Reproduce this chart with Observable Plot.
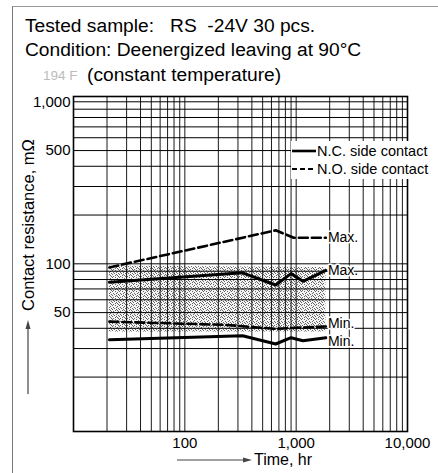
<!DOCTYPE html>
<html>
<head>
<meta charset="utf-8">
<script src="https://cdn.jsdelivr.net/npm/d3@7"></script>
<script src="https://cdn.jsdelivr.net/npm/@observablehq/plot@0.6"></script>
<style>
  body { margin: 0; background: #fff; }
  #wrap { position: relative; width: 438px; height: 473px; overflow: hidden; background: #fff;
          font-family: "Liberation Sans", Arial, Helvetica, sans-serif; color: #000; }
  .abs { position: absolute; white-space: pre; }
  .title { font-size: 19.2px; line-height: 18px; }
  #legend { position: absolute; left: 291px; top: 141px; width: 160px; background: #fff; padding: 1px 0; }
  #legend .row { display: flex; align-items: center; height: 18px; font-size: 14.5px; white-space: nowrap; }
  #legend svg { width: 25px; height: 8px; margin-right: 1px; }
</style>
</head>
<body>
<div id="wrap">
  <div class="abs" style="left:12px;top:6px;width:600px;height:600px;border-left:1px solid #777;border-top:1px solid #999;"></div>
  <div class="abs title" style="left:25px;top:17px;">Tested sample:   RS  -24V 30 pcs.</div>
  <div class="abs title" style="left:25px;top:41px;">Condition: Deenergized leaving at 90°C</div>
  <div class="abs" style="left:43px;top:69px;font-size:13.5px;line-height:14px;color:#bbb;">194 F</div>
  <div class="abs title" style="left:87px;top:66px;">(constant temperature)</div>
  <div id="chart" class="abs" style="left:0;top:88px;"></div>
  <div id="legend"></div>
  <div class="abs" style="left:28px;top:225px;font-size:16.5px;transform:translate(-50%,-50%) rotate(-90deg);">Contact resistance, mΩ</div>
  <div class="abs" style="left:254px;top:451px;font-size:16px;line-height:18px;">Time, hr</div>
  <svg class="abs" style="left:0;top:0;pointer-events:none" width="438" height="473">
    <line x1="28" y1="394" x2="28" y2="326" stroke="#444" stroke-width="1.2"/>
    <path d="M28,320 L25.5,329 L30.5,329 Z" fill="#444"/>
    <line x1="177" y1="460" x2="246" y2="460" stroke="#444" stroke-width="1.2"/>
    <path d="M252,460 L243,457.5 L243,462.5 Z" fill="#444"/>
  </svg>
</div>
<script>
// ---- data ----
const ncHours = [21, 330, 655, 900, 1150, 1850];
const ncMax   = [77, 88, 74, 87, 78, 91];
const ncMin   = [34, 36, 32, 35, 33.5, 35];
const noMaxHours = [21, 655, 950, 1850];
const noMax      = [95, 161, 145, 145];
const noMinHours = [21, 230, 655, 900, 1850];
const noMin      = [44, 42, 39.7, 40.2, 41];
const bandHours  = [21, 1850];
const bandTop    = [97, 95];
const bandBottom = [38, 38];
const xTicks = [100, 1000, 10000];
const yTicks = [50, 100, 500, 1000];
const xGrid = [20,30,40,50,60,70,80,90,100,200,300,400,500,600,700,800,900,1000,2000,3000,4000,5000,6000,7000,8000,9000];
const yGrid = [20,30,40,50,60,70,80,90,100,200,300,400,500,600,700,800,900,1000];
const legendLabels = ["N.C. side contact", "N.O. side contact"];
const endLabels = ["Max.", "Max.", "Min.", "Min."];

const pts = (xs, ys) => xs.map((x, i) => ({x, y: ys[i]}));
const band = bandHours.map((x, i) => ({x, y1: bandBottom[i], y2: bandTop[i]}));
const series = [
  {pts: pts(noMaxHours, noMax), label: endLabels[0]},
  {pts: pts(ncHours, ncMax), label: endLabels[1]},
  {pts: pts(noMinHours, noMin), label: endLabels[2]},
  {pts: pts(ncHours, ncMin), label: endLabels[3]}
];
const end = s => ({...s.pts[s.pts.length - 1], label: s.label});
const fmt = d3.format(",");
const labelStyle = {x: "x", y: "y", text: "label", textAnchor: "start", dx: 2, fontSize: 14, fill: "#000", stroke: "#fff", strokeWidth: 3};

const chart = Plot.plot({
  width: 438,
  height: 385,
  marginTop: 8,
  marginBottom: 42,
  marginLeft: 73,
  marginRight: 31,
  style: {fontFamily: '"Liberation Sans", Arial, sans-serif', fontSize: "15px", color: "#000", background: "transparent", overflow: "visible"},
  x: {type: "log", domain: [10, 10000], ticks: xTicks, tickFormat: fmt, tickSize: 0, tickPadding: 6, label: null},
  y: {type: "log", domain: [9.23, 1078], ticks: yTicks, tickFormat: fmt, tickSize: 0, tickPadding: 3, label: null},
  marks: [
    Plot.areaY(band, {x: "x", y1: "y1", y2: "y2", fill: "url(#stip)"}),
    Plot.ruleX(xGrid, {stroke: "#000", strokeWidth: 0.9}),
    Plot.ruleY(yGrid, {stroke: "#000", strokeWidth: 1}),
    Plot.frame({stroke: "#000", strokeWidth: 1.6}),
    Plot.line(series[0].pts, {x: "x", y: "y", stroke: "#000", strokeWidth: 2.6, strokeDasharray: "9,4"}),
    Plot.line(series[2].pts, {x: "x", y: "y", stroke: "#000", strokeWidth: 2.6, strokeDasharray: "9,4"}),
    Plot.line(series[1].pts, {x: "x", y: "y", stroke: "#000", strokeWidth: 3}),
    Plot.line(series[3].pts, {x: "x", y: "y", stroke: "#000", strokeWidth: 3}),
    Plot.text([end(series[0]), end(series[1])], labelStyle),
    Plot.text([end(series[2])], {...labelStyle, dy: -3}),
    Plot.text([end(series[3])], {...labelStyle, dy: 4})
  ]
});

// stipple texture for the scatter band
const svg = d3.select(chart.tagName.toLowerCase() === "svg" ? chart : chart.querySelector("svg"));
const pat = svg.insert("defs", ":first-child").append("pattern")
  .attr("id", "stip").attr("width", 7).attr("height", 7).attr("patternUnits", "userSpaceOnUse");
pat.append("rect").attr("width", 7).attr("height", 7).attr("fill", "#f4f4f4");
const dots = [[0,0],[3,0],[5,1],[1,2],[4,2],[6,3],[2,3],[0,4],[3,5],[5,5],[1,6],[6,6],[4,4]];
dots.forEach(([x, y]) => pat.append("rect").attr("x", x).attr("y", y).attr("width", 1).attr("height", 1).attr("fill", "#666"));

document.getElementById("chart").append(chart);

// legend
const lg = document.getElementById("legend");
legendLabels.forEach((t, i) => {
  const row = document.createElement("div");
  row.className = "row";
  row.innerHTML = `<svg viewBox="0 0 25 8"><line x1="1" y1="4" x2="25" y2="4" stroke="#000" stroke-width="${i ? 2.2 : 2.6}" ${i ? 'stroke-dasharray="5,3"' : ''}/></svg><span>${t}</span>`;
  lg.append(row);
});
</script>
</body>
</html>
